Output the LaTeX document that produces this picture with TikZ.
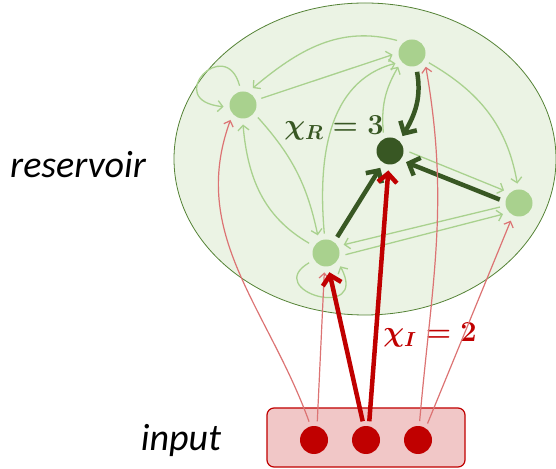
\documentclass[tikz,border=0pt]{standalone}
\usepackage{fix-cm}
\usepackage{amsmath}
\usepackage{fontspec}
\newfontfamily\labelfont{Carlito}
\usetikzlibrary{arrows.meta}
\definecolor{lgreen}{HTML}{A9D18E}
\definecolor{dgreen}{HTML}{385723}
\definecolor{rimgreen}{HTML}{548235}
\definecolor{poolgreen}{HTML}{EBF3E4}
\definecolor{dred}{HTML}{C00000}
\colorlet{lred}{dred!55}
\tikzset{
  neuron/.style={circle,fill=lgreen,minimum size=27pt,inner sep=0pt,outer sep=6pt},
  hub/.style={neuron,fill=dgreen},
  innode/.style={circle,fill=dred,minimum size=28pt,inner sep=0pt,outer sep=5pt},
  wlink/.style={lgreen,line width=1.3pt,-{Straight Barb[length=5pt 0,width=11pt 0]}},
  slink/.style={dgreen,line width=4.5pt,-{Straight Barb[length=9pt 0,width=19pt 0]}},
  inlink/.style={lred,line width=1.2pt,-{Straight Barb[length=5pt 0,width=10pt 0]}},
  sinlink/.style={dred,line width=4.5pt,-{Straight Barb[length=9pt 0,width=19pt 0]}},
  biglabel/.style={font=\labelfont\itshape\fontsize{38}{40}\selectfont,anchor=base},
  weight/.style={font=\fontsize{29}{31}\selectfont\boldmath,anchor=base}
}

\begin{document}
\begin{tikzpicture}[x=1pt,y=1pt]
  \useasboundingbox (0,0) rectangle (556,468);
  \draw[rimgreen,fill=poolgreen,line width=0.8pt] (365,309) ellipse [x radius=191, y radius=156];
  \node[rectangle,rounded corners=7pt,draw=dred,fill=dred!22,line width=1.2pt,
        minimum width=198pt,minimum height=59pt] (inbox) at (366,30.5) {};

  % reservoir units
  \node[neuron] (A) at (243,363) {};
  \node[neuron] (B) at (412,415) {};
  \node[hub]    (C) at (390,317) {};
  \node[neuron] (D) at (519,265) {};
  \node[neuron] (E) at (326,215) {};

  % input units
  \node[innode] (I1) at (314,28) {};
  \node[innode] (I2) at (366,28) {};
  \node[innode] (I3) at (418,28) {};

  \node[biglabel] (reslabel) at (78,290) {reservoir};
  \node[biglabel] (inlabel) at (181,18) {input};
  \node[weight,dgreen] (chiR) at (334,333) {$\chi_R = 3$};
  \node[weight,dred] (chiI) at (430,126) {$\chi_I = 2$};

  % weak recurrent links
  \draw[wlink] (B.140) to[out=165,in=40] (A.60);
  \draw[wlink] (A.20) -- (B.185);
  \draw[wlink] (A.100) .. controls +(-14,52) and +(-62,6) .. (A.185);
  \draw[wlink] (A.-40) to[bend left=15] (E.115);
  \draw[wlink] (E.150) to[out=150,in=-85] (A.-90);
  \draw[wlink] (E.95) to[out=95,in=195] (B.212);
  \draw[wlink] (C.110) to[out=95,in=240] (B.225);
  \draw[wlink] (B.-30) to[out=-30,in=100] (D.95);
  \draw[wlink] (C.-3) -- (D.140);
  \draw[wlink] (D.192) -- (E.25);
  \draw[wlink] (E.-5) -- (D.215);
  \draw[wlink] (E.210) .. controls +(-48,-28) and +(30,-56) .. (E.-43);

  % strong links into the hub
  \draw[slink] (B.-75) to[out=-80,in=60] (C.50);
  \draw[slink] (D.170) -- (C.-35);
  \draw[slink] (E.55) -- (C.240);

  % input links
  \draw[inlink] (I1.105) to[out=110,in=-110] (A.-130);
  \draw[inlink] (I1.80) -- (E.-95);
  \draw[inlink] (I3.85) to[out=85,in=-80] (B.-45);
  \draw[inlink] (I3.60) -- (D.-115);
  \draw[sinlink] (I2.100) -- (E.-80);
  \draw[sinlink] (I2.80) -- (C.-95);
\end{tikzpicture}
\end{document}
